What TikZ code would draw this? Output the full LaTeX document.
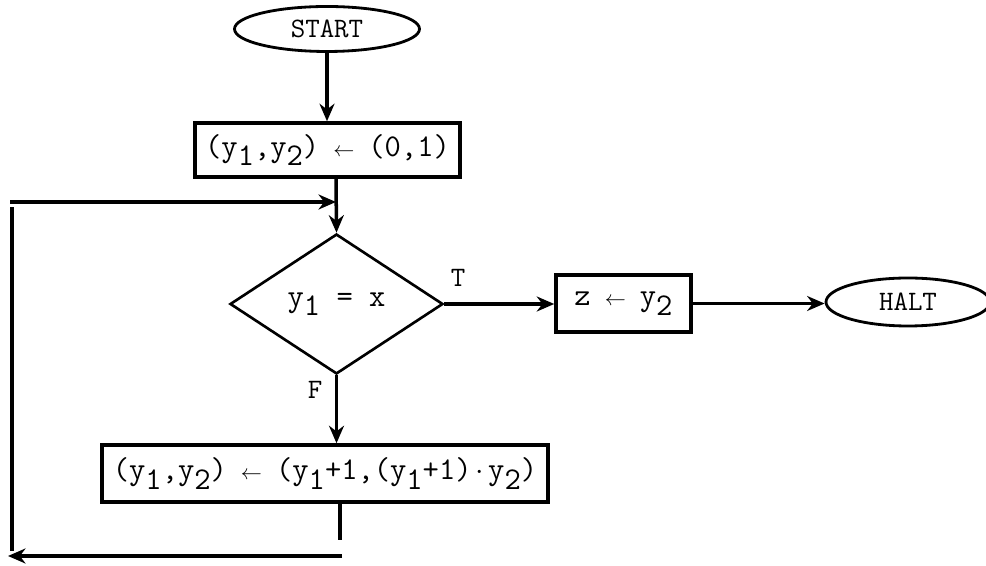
\documentclass[tikz,border=0pt]{standalone}
\usetikzlibrary{arrows.meta,shapes.geometric}
\newcommand{\lowsub}[1]{\raisebox{-0.7ex}{#1}}
\newcommand{\getsarr}{\makebox[0.525em]{$\scriptstyle\leftarrow$}}
\newcommand{\tdot}{\makebox[0.525em]{$\cdot$}}

\begin{document}
\begin{tikzpicture}[
		line width=2pt,
		flow/.style={-{Stealth[length=3.5mm,width=3mm]}},
		box/.style={draw,rectangle,inner sep=0pt,font=\fontsize{18}{21}\selectfont\ttfamily},
		term/.style={draw,ellipse,inner sep=0pt,line width=1.6pt,font=\fontsize{16}{19}\selectfont\ttfamily},
		decision/.style={draw,diamond,inner sep=0pt,line width=1.5pt,font=\fontsize{18}{21}\selectfont\ttfamily},
		lab/.style={inner sep=0pt,font=\fontsize{16}{19}\selectfont\ttfamily}
	]
			\useasboundingbox (0,0) rectangle (19.72,11.32);

			\node[term,minimum width=3.7cm,minimum height=0.9cm] (start) at (6.54,10.74) {START};
			\node[box,minimum width=5.3cm,minimum height=1.08cm] (init) at (6.55,8.32) {(y\lowsub{1},y\lowsub{2}) \getsarr{} (0,1)};
			\coordinate (join) at (6.72,7.28);
			\node[decision,minimum width=4.26cm,minimum height=2.8cm] (test) at (6.73,5.24) {y\lowsub{1} = x};
			\node[box,minimum width=2.7cm,minimum height=1.14cm] (assign) at (12.47,5.25) {z \getsarr{} y\lowsub{2}};
			\node[term,minimum width=3.28cm,minimum height=0.96cm] (halt) at (18.16,5.28) {HALT};
			\node[box,minimum width=8.92cm,minimum height=1.14cm] (update) at (6.5,1.85) {(y\lowsub{1},y\lowsub{2}) \getsarr{} (y\lowsub{1}+1,(y\lowsub{1}+1)\tdot y\lowsub{2})};
			\node[lab] (tlab) at (9.16,5.76) {T};
			\node[lab] (flab) at (6.3,3.52) {F};

			\coordinate (stub) at (6.8,0.52);
			\coordinate (rb) at (6.84,0.2);
			\coordinate (lb) at (0.16,0.2);
			\coordinate (lbot) at (0.24,0.3);
			\coordinate (lt) at (0.24,7.18);
			\coordinate (tl) at (0.2,7.28);

			\draw[flow] (start.south) -- (start.south |- init.north);
			\draw[flow] (init.south -| join) -- (test.north);
			\draw[flow] (test.east) -- (test.east -| assign.west);
			\draw[flow,line width=1.5pt] (assign.east) -- (assign.east -| halt.west);
			\draw[flow] (test.south) -- (test.south |- update.north);
			\draw (update.south -| stub) -- (stub);
			\draw[flow] (rb) -- (lb);
			\draw (lbot) -- (lt);
			\draw[flow] (tl) -- (join);
		\end{tikzpicture}
\end{document}
